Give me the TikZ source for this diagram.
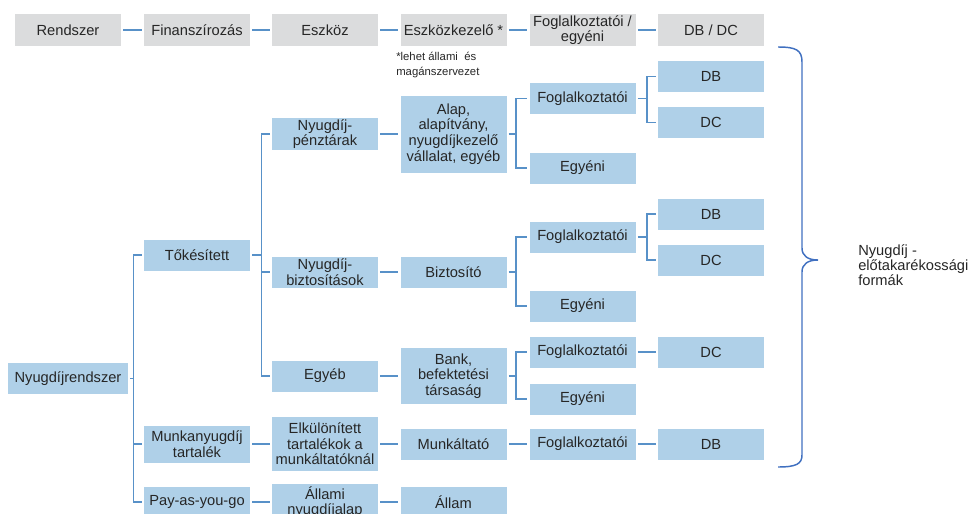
\documentclass[tikz,border=0pt]{standalone}
\usepackage{fontspec}
\setmainfont{Liberation Sans}

\definecolor{boxblue}{RGB}{175,208,232}
\definecolor{headgray}{RGB}{219,220,221}
\definecolor{linkblue}{RGB}{88,145,200}
\definecolor{bracecol}{RGB}{64,112,192}
\definecolor{textgray}{RGB}{38,38,38}

\begin{document}
\begin{tikzpicture}[x=0.75pt, y=-0.75pt,
                    every node/.style={text=textgray, font=\fontsize{11}{11.7}\selectfont},
                    main node/.style={fill=boxblue, minimum width=79.5pt, minimum height=23.25pt,
                                      inner sep=1pt, align=center},
                    head node/.style={main node, fill=headgray, minimum height=24pt},
                    link/.style={draw=linkblue, line width=1.1pt, shorten <=1.5pt, shorten >=1.5pt},
                    brace line/.style={draw=bracecol, line width=1.1pt}]

  \clip (0,0) rectangle (971,514);

  % header row
  \node[head node] (h1) at (68,30) {Rendszer};
  \node[head node] (h2) at (197,30) {Finanszírozás};
  \node[head node] (h3) at (325,30) {Eszköz};
  \node[head node] (h4) at (453.5,30) {Eszközkezelő *};
  \node[head node] (h5) at (582.5,30) {Foglalkoztatói /\\egyéni};
  \node[head node] (h6) at (711,30) {DB / DC};
  \node[font=\fontsize{8.5}{11}\selectfont, align=left, anchor=north west, inner sep=0pt]
    (note) at (396,52) {*lehet állami \ és\\ magánszervezet};

  % tree
  \node[main node, minimum width=90pt] (1) at (68,378.5) {Nyugdíjrendszer};
  \node[main node] (2) at (197,255) {Tőkésített};
  \node[main node, minimum height=27.75pt] (3) at (197,444) {Munkanyugdíj\\tartalék};
  \node[main node] (4) at (197,502) {Pay-as-you-go};
  \node[main node] (5) at (325,134) {Nyugdíj-\\pénztárak};
  \node[main node] (6) at (325,272) {Nyugdíj-\\biztosítások};
  \node[main node] (7) at (325,376) {Egyéb};
  \node[main node, minimum height=40.5pt] (8) at (325,444) {Elkülönített\\tartalékok a\\munkáltatóknál};
  \node[main node, minimum height=27pt] (9) at (325,502) {Állami\\nyugdíjalap};
  \node[main node, minimum height=57.75pt] (10) at (453.5,134) {Alap,\\alapítvány,\\nyugdíjkezelő\\vállalat, egyéb};
  \node[main node] (11) at (453.5,272) {Biztosító};
  \node[main node, minimum height=42pt] (12) at (453.5,376) {Bank,\\befektetési\\társaság};
  \node[main node] (13) at (453.5,444) {Munkáltató};
  \node[main node] (14) at (453.5,502) {Állam};
  \node[main node] (15) at (582.5,98.5) {Foglalkoztatói};
  \node[main node] (16) at (582.5,168) {Egyéni};
  \node[main node] (17) at (582.5,237) {Foglalkoztatói};
  \node[main node] (18) at (582.5,306) {Egyéni};
  \node[main node] (19) at (582.5,352) {Foglalkoztatói};
  \node[main node] (20) at (582.5,399) {Egyéni};
  \node[main node] (21) at (582.5,444) {Foglalkoztatói};
  \node[main node] (22) at (711,76.5) {DB};
  \node[main node] (23) at (711,122.5) {DC};
  \node[main node] (24) at (711,214) {DB};
  \node[main node] (25) at (711,260) {DC};
  \node[main node] (26) at (711,352) {DC};
  \node[main node] (27) at (711,444) {DB};

  \node[align=left, anchor=west, inner sep=0pt, font=\fontsize{11}{11.3}\selectfont]
    (forms) at (858,265) {Nyugdíj -\\előtakarékossági\\formák};

  % straight links
  \path[link]
    (h1) edge (h2)
    (h2) edge (h3)
    (h3) edge (h4)
    (h4) edge (h5)
    (h5) edge (h6)
    (5) edge (10)
    (6) edge (11)
    (7) edge (12)
    (3) edge (8)
    (8) edge (13)
    (13) edge (21)
    (21) edge (27)
    (19) edge (26)
    (4) edge (9)
    (9) edge (14);

  % branching links
  \draw[link] (1.east) -- ++(5,0) |- (2.west);
  \draw[link] (1.east) -- ++(5,0) |- (3.west);
  \draw[link] (1.east) -- ++(5,0) |- (4.west);
  \draw[link] (2.east) -- ++(11,0) |- (5.west);
  \draw[link] (2.east) -- ++(11,0) |- (6.west);
  \draw[link] (2.east) -- ++(11,0) |- (7.west);
  \draw[link] (10.east) -- ++(9,0) |- (15.west);
  \draw[link] (10.east) -- ++(9,0) |- (16.west);
  \draw[link] (15.east) -- ++(11,0) |- (22.west);
  \draw[link] (15.east) -- ++(11,0) |- (23.west);
  \draw[link] (11.east) -- ++(9,0) |- (17.west);
  \draw[link] (11.east) -- ++(9,0) |- (18.west);
  \draw[link] (17.east) -- ++(11,0) |- (24.west);
  \draw[link] (17.east) -- ++(11,0) |- (25.west);
  \draw[link] (12.east) -- ++(9,0) |- (19.west);
  \draw[link] (12.east) -- ++(9,0) |- (20.west);

  % brace
  \draw[brace line] (778,47) .. controls (796,47) and (802,50) .. (802,62) -- (802,248)
    .. controls (802,256) and (808,260) .. (818,260)
    .. controls (808,260) and (802,264) .. (802,272) -- (802,455)
    .. controls (802,464) and (796,467) .. (778,467);
\end{tikzpicture}
\end{document}
